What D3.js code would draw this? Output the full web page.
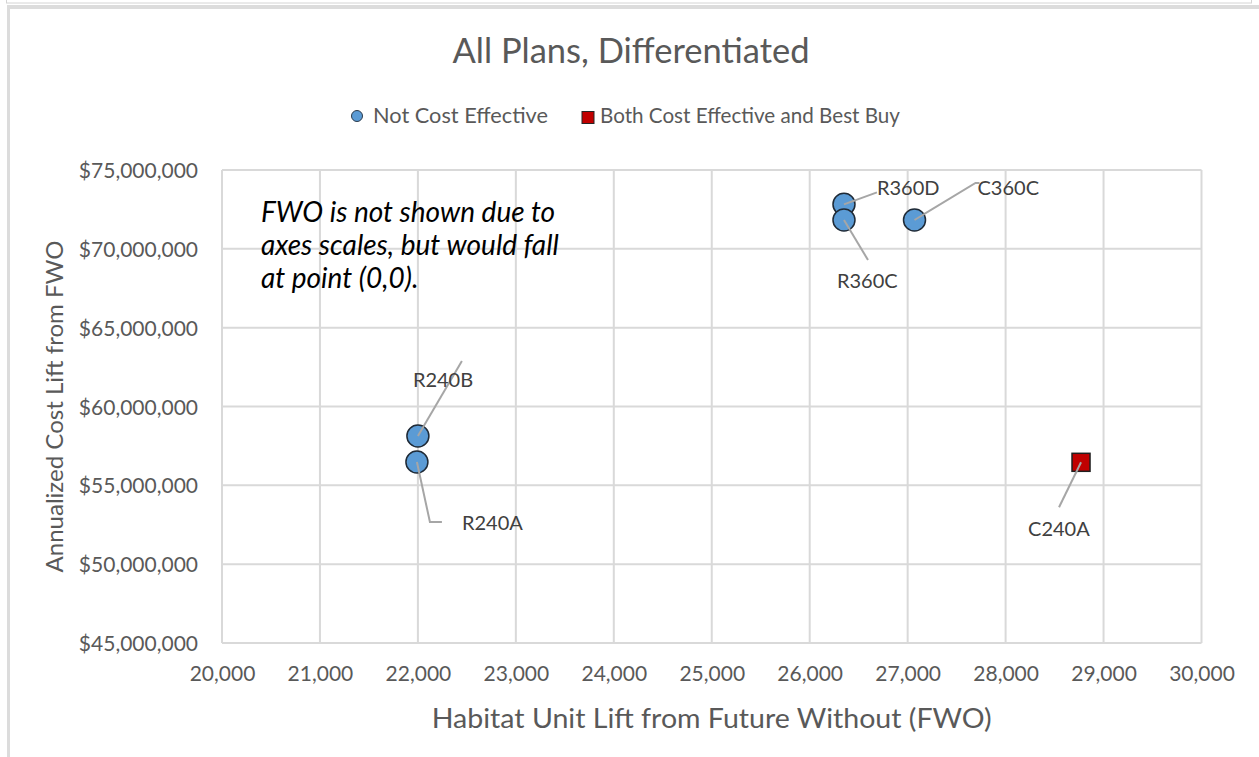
<!DOCTYPE html>
<html>
<head>
<meta charset="utf-8">
<script src="https://cdn.jsdelivr.net/npm/d3@7/dist/d3.min.js"></script>
<style>
  html, body { margin: 0; padding: 0; background: #fff; }
  svg { display: block; font-family: Lato, "Open Sans", sans-serif; }
</style>
</head>
<body>
<svg id="chart" width="1259" height="757"></svg>
<script>
// Plans and their lift values
const plans = ["R240B", "R240A", "R360D", "R360C", "C360C", "C240A"];
const habitatLift = [22000, 21990, 26350, 26350, 27070, 28770];
const costLift = [58130000, 56480000, 72820000, 71830000, 71830000, 56460000];
const status = ["Not Cost Effective", "Not Cost Effective", "Not Cost Effective",
                "Not Cost Effective", "Not Cost Effective", "Both Cost Effective and Best Buy"];

const legendItems = ["Not Cost Effective", "Both Cost Effective and Best Buy"];
const xTicks = [20000, 21000, 22000, 23000, 24000, 25000, 26000, 27000, 28000, 29000, 30000];
const yTicks = [45000000, 50000000, 55000000, 60000000, 65000000, 70000000, 75000000];

const titleText = "All Plans, Differentiated";
const xTitle = "Habitat Unit Lift from Future Without (FWO)";
const yTitle = "Annualized Cost Lift from FWO";
const noteLines = ["FWO is not shown due to", "axes scales, but would fall", "at point (0,0)."];

// Label placement relative to each marker (pixels): text anchor and leader path
const labelLayout = {
  R240B: { tx: -5, ty: -49, leader: [[44, -75]] },
  R240A: { tx: 45, ty: 68, leader: [[13, 60], [25, 60]] },
  R360D: { tx: 33, ty: -9, leader: [[33, -12]] },
  R360C: { tx: -7, ty: 68, leader: [[24, 40]] },
  C360C: { tx: 63, ty: -25, leader: [[61, -37], [65, -37]] },
  C240A: { tx: -53, ty: 74, leader: [[-22, 45]] }
};

const svg = d3.select("#chart");
const W = 1259, H = 757;
const plot = { left: 222, right: 1201.5, top: 170, bottom: 643 };

const x = d3.scaleLinear().domain([20000, 30000]).range([plot.left, plot.right]);
const y = d3.scaleLinear().domain([45000000, 75000000]).range([plot.bottom, plot.top]);

const textGrey = "#595959";
const gridGrey = "#d9d9d9";

// Window frame around the chart
svg.append("rect").attr("x", 6.5).attr("y", -2).attr("width", 1245).attr("height", 5)
  .attr("fill", "none").attr("stroke", "#d4d4d4").attr("stroke-width", 1);
svg.append("rect").attr("x", 7).attr("y", 5).attr("width", W - 7).attr("height", 4).attr("fill", "#dcdcdc");
svg.append("rect").attr("x", 7).attr("y", 5).attr("width", 3).attr("height", H - 5).attr("fill", "#dcdcdc");

// Title
svg.append("text").attr("x", 631).attr("y", 63).attr("text-anchor", "middle")
  .attr("font-size", 34.5).attr("fill", textGrey).text(titleText);

// Legend
const legend = svg.append("g");
legend.append("circle").attr("cx", 357).attr("cy", 116).attr("r", 5.5)
  .attr("fill", "#5b9bd5").attr("stroke", "#2b3a4a").attr("stroke-width", 1);
legend.append("text").attr("x", 373).attr("y", 123).attr("font-size", 21.5)
  .attr("textLength", 175).attr("lengthAdjust", "spacingAndGlyphs")
  .attr("fill", textGrey).text(legendItems[0]);
legend.append("rect").attr("x", 582).attr("y", 111.5).attr("width", 12).attr("height", 12)
  .attr("fill", "#c00000").attr("stroke", "#262626").attr("stroke-width", 1);
legend.append("text").attr("x", 600).attr("y", 123).attr("font-size", 21.5)
  .attr("textLength", 300).attr("lengthAdjust", "spacingAndGlyphs")
  .attr("fill", textGrey).text(legendItems[1]);

// Gridlines
const grid = svg.append("g").attr("stroke", gridGrey).attr("stroke-width", 2);
grid.selectAll("line.v").data(xTicks).join("line").attr("class", "v")
  .attr("x1", d => x(d)).attr("x2", d => x(d)).attr("y1", plot.top).attr("y2", plot.bottom);
grid.selectAll("line.h").data(yTicks).join("line").attr("class", "h")
  .attr("x1", plot.left).attr("x2", plot.right).attr("y1", d => y(d)).attr("y2", d => y(d));

// Axes (labels only; lines come from the grid)
const xAxis = svg.append("g").attr("transform", `translate(0,${plot.bottom})`)
  .call(d3.axisBottom(x).tickValues(xTicks).tickFormat(d3.format(",")).tickSize(0).tickPadding(23));
const yAxis = svg.append("g").attr("transform", `translate(${plot.left},0)`)
  .call(d3.axisLeft(y).tickValues(yTicks).tickFormat(d => "$" + d3.format(",")(d)).tickSize(0).tickPadding(24));
[xAxis, yAxis].forEach(g => {
  g.select(".domain").remove();
  g.selectAll("text").attr("font-size", 21).attr("fill", textGrey).attr("font-family", "Lato, 'Open Sans', sans-serif");
});
xAxis.selectAll("text").attr("dy", "0.71em");
yAxis.selectAll("text").attr("dy", "0.36em");

// Axis titles
svg.append("text").attr("x", (plot.left + plot.right) / 2).attr("y", 728).attr("text-anchor", "middle")
  .attr("font-size", 26).attr("textLength", 560).attr("lengthAdjust", "spacingAndGlyphs")
  .attr("fill", textGrey).text(xTitle);
svg.append("text").attr("transform", `translate(63,${(plot.top + plot.bottom) / 2}) rotate(-90)`)
  .attr("text-anchor", "middle").attr("font-size", 24).attr("textLength", 332)
  .attr("lengthAdjust", "spacingAndGlyphs").attr("fill", textGrey).text(yTitle);

// Note about the FWO point
const note = svg.append("text").attr("font-size", 28).attr("font-style", "italic").attr("fill", "#000");
noteLines.forEach((line, i) => {
  note.append("tspan").attr("x", 261).attr("y", 222 + i * 33).text(line);
});

const pts = plans.map((p, i) => ({ name: p, hx: habitatLift[i], cy: costLift[i], status: status[i] }));

// Leader lines
svg.append("g").selectAll("path").data(pts).join("path")
  .attr("fill", "none").attr("stroke", "#a6a6a6").attr("stroke-width", 2)
  .attr("d", d => {
    const px = x(d.hx), py = y(d.cy);
    const pts2 = [[px, py]].concat(labelLayout[d.name].leader.map(o => [px + o[0], py + o[1]]));
    return d3.line()(pts2);
  });

// Markers
const marks = svg.append("g");
marks.selectAll("circle").data(pts.filter(d => d.status === legendItems[0])).join("circle")
  .attr("cx", d => x(d.hx)).attr("cy", d => y(d.cy)).attr("r", 11)
  .attr("fill", "#5b9bd5").attr("stroke", "#1f2a36").attr("stroke-width", 1.5);
marks.selectAll("rect").data(pts.filter(d => d.status === legendItems[1])).join("rect")
  .attr("x", d => x(d.hx) - 9).attr("y", d => y(d.cy) - 9).attr("width", 18).attr("height", 18)
  .attr("fill", "#c00000").attr("stroke", "#1f1f1f").attr("stroke-width", 1.5);

// Leader stubs drawn over the markers so they start at each marker's centre
svg.append("g").selectAll("line").data(pts).join("line")
  .attr("stroke", "#a6a6a6").attr("stroke-width", 2)
  .attr("x1", d => x(d.hx)).attr("y1", d => y(d.cy))
  .attr("x2", d => {
    const o = labelLayout[d.name].leader[0];
    const len = Math.hypot(o[0], o[1]);
    return x(d.hx) + o[0] / len * 12;
  })
  .attr("y2", d => {
    const o = labelLayout[d.name].leader[0];
    const len = Math.hypot(o[0], o[1]);
    return y(d.cy) + o[1] / len * 12;
  });

// Data labels
svg.append("g").selectAll("text").data(pts).join("text")
  .attr("x", d => x(d.hx) + labelLayout[d.name].tx)
  .attr("y", d => y(d.cy) + labelLayout[d.name].ty)
  .attr("font-size", 20).attr("fill", "#404040").text(d => d.name);
</script>
</body>
</html>
